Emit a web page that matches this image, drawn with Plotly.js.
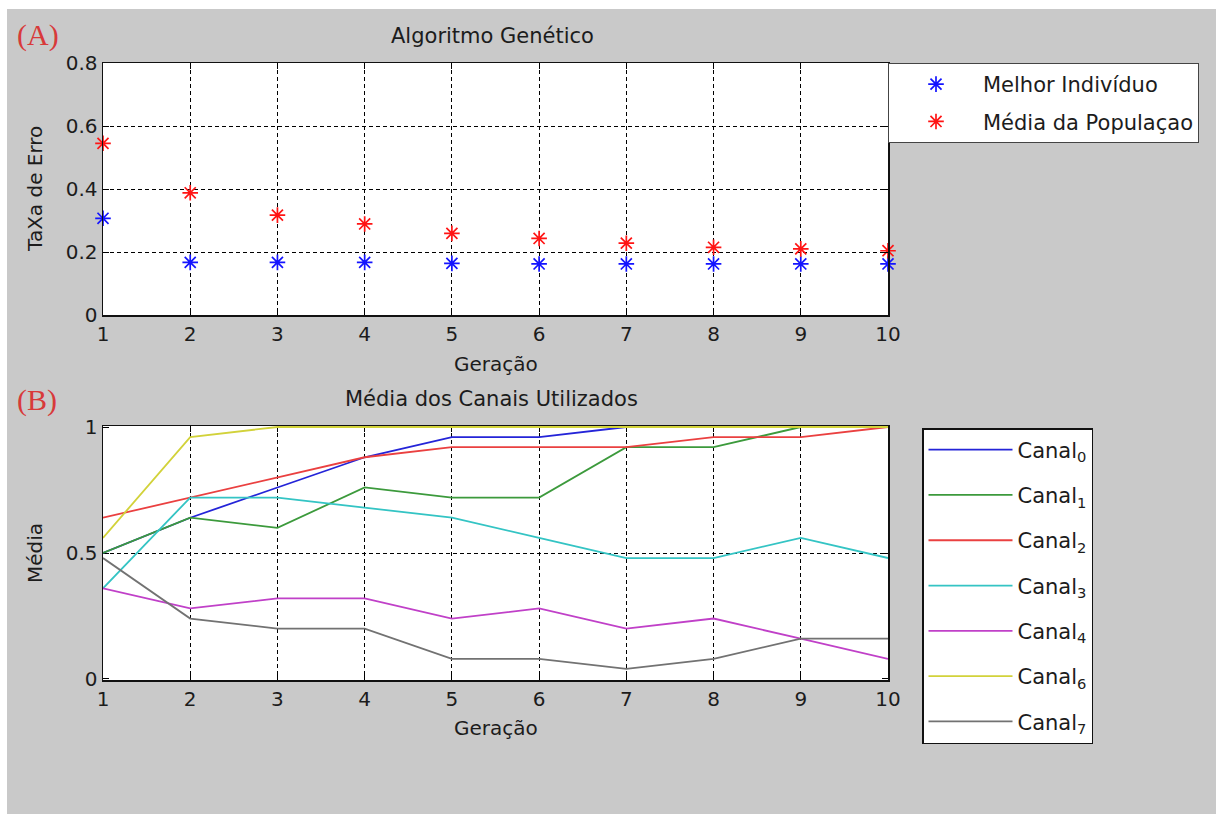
<!DOCTYPE html>
<html>
<head>
<meta charset="utf-8">
<script src="https://cdn.plot.ly/plotly-3.0.1.min.js"></script>
<style>
  html, body { margin: 0; padding: 0; background: #ffffff; }
  #chart { width: 1216px; height: 814px; }
</style>
</head>
<body>
<div id="chart"></div>
<script>
// Generations (x axis of both panels)
const geracao = [1, 2, 3, 4, 5, 6, 7, 8, 9, 10];

// Panel A: error rate per generation
const melhorIndividuo = [0.307, 0.167, 0.167, 0.167, 0.164, 0.162, 0.162, 0.162, 0.162, 0.162];
const mediaPopulacao  = [0.545, 0.388, 0.317, 0.289, 0.259, 0.243, 0.228, 0.215, 0.210, 0.204];

// Panel B: mean usage of each channel per generation
const canalNomes = ['Canal<sub>0</sub>', 'Canal<sub>1</sub>', 'Canal<sub>2</sub>', 'Canal<sub>3</sub>',
                    'Canal<sub>4</sub>', 'Canal<sub>6</sub>', 'Canal<sub>7</sub>'];
const canal0 = [0.50, 0.64, 0.76, 0.88, 0.96, 0.96, 1.00, 1.00, 1.00, 1.00];
const canal1 = [0.50, 0.64, 0.60, 0.76, 0.72, 0.72, 0.92, 0.92, 1.00, 1.00];
const canal2 = [0.64, 0.72, 0.80, 0.88, 0.92, 0.92, 0.92, 0.96, 0.96, 1.00];
const canal3 = [0.36, 0.72, 0.72, 0.68, 0.64, 0.56, 0.48, 0.48, 0.56, 0.48];
const canal4 = [0.36, 0.28, 0.32, 0.32, 0.24, 0.28, 0.20, 0.24, 0.16, 0.08];
const canal6 = [0.56, 0.96, 1.00, 1.00, 1.00, 1.00, 1.00, 1.00, 1.00, 1.00];
const canal7 = [0.48, 0.24, 0.20, 0.20, 0.08, 0.08, 0.04, 0.08, 0.16, 0.16];
const canalValores = [canal0, canal1, canal2, canal3, canal4, canal6, canal7];
const canalCores = ['#2424d8', '#3c9a3c', '#ea4040', '#34c4c4', '#c040c8', '#d2d23a', '#727272'];

// Tick values of the two panels
const ticksErro = [0, 0.2, 0.4, 0.6, 0.8];
const ticksMedia = [0, 0.5, 1];

// Figure geometry in pixels, converted to paper fractions below
const W = 1216, H = 814;
const px = v => v / W;
const py = v => 1 - v / H;

const FONT = 'DejaVu Sans, Verdana, sans-serif';
const SERIF = 'Liberation Serif, Times New Roman, serif';
const TXT = '#1c1c1c';
const GRID = { color: '#000', width: 1, dash: '4px,3px' };

const traces = [
  {
    x: geracao, y: melhorIndividuo, name: 'Melhor Indivíduo',
    type: 'scatter', mode: 'markers', xaxis: 'x', yaxis: 'y',
    legend: 'legend', legendgroup: 'a0', cliponaxis: false,
    marker: { symbol: 'asterisk-open', size: 13, color: '#1414ff', line: { width: 1.7, color: '#1414ff' } }
  },
  {
    x: geracao, y: mediaPopulacao, name: 'Média da Populaçao',
    type: 'scatter', mode: 'markers', xaxis: 'x', yaxis: 'y',
    legend: 'legend', legendgroup: 'a1', cliponaxis: false,
    marker: { symbol: 'asterisk-open', size: 13, color: '#ff1414', line: { width: 1.7, color: '#ff1414' } }
  }
];

canalValores.forEach((vals, i) => {
  traces.push({
    x: geracao, y: vals, name: canalNomes[i],
    type: 'scatter', mode: 'lines', xaxis: 'x2', yaxis: 'y2', legend: 'legend2',
    legendgroup: 'c' + i, cliponaxis: false,
    line: { color: canalCores[i], width: 1.8 }
  });
});

const commonX = {
  range: [1, 10], tickvals: geracao, ticks: 'inside', ticklen: 6, tickwidth: 1, tickcolor: '#000',
  showline: true, linecolor: '#111', linewidth: 1.5, mirror: 'ticks',
  showgrid: true, gridcolor: GRID.color, gridwidth: GRID.width, griddash: GRID.dash,
  zeroline: false, fixedrange: true,
  tickfont: { family: FONT, size: 20, color: TXT },
  domain: [px(103), px(888)]
};
const commonY = {
  ticks: 'inside', ticklen: 6, tickwidth: 1, tickcolor: '#000',
  showline: true, linecolor: '#111', linewidth: 1.5, mirror: 'ticks',
  zeroline: false, fixedrange: true,
  tickfont: { family: FONT, size: 20, color: TXT }
};

const titleFont = { family: FONT, size: 21, color: TXT };
const labelFont = { family: FONT, size: 20, color: TXT };

const layout = {
  width: W, height: H,
  margin: { l: 0, r: 0, t: 0, b: 0 },
  paper_bgcolor: '#c9c9c9', plot_bgcolor: '#ffffff',
  showlegend: true,
  xaxis: Object.assign({}, commonX, { anchor: 'y' }),
  yaxis: Object.assign({}, commonY, {
    anchor: 'x', range: [0, 0.8], tickvals: ticksErro,
    ticktext: ticksErro.map(String),
    showgrid: true, gridcolor: GRID.color, gridwidth: GRID.width, griddash: GRID.dash,
    domain: [py(315), py(63)]
  }),
  xaxis2: Object.assign({}, commonX, { anchor: 'y2', layer: 'below traces' }),
  // a hair of padding keeps the lines that sit at 1.0 visible on the frame;
  // only the middle value gets a grid line
  yaxis2: Object.assign({}, commonY, {
    anchor: 'x2', layer: 'below traces', range: [-0.004, 1.004], tickvals: ticksMedia,
    ticktext: ticksMedia.map(String),
    showgrid: false,
    minor: { tickmode: 'array', tickvals: [ticksMedia[1]], ticks: '', showgrid: true,
             gridcolor: GRID.color, gridwidth: GRID.width, griddash: GRID.dash },
    domain: [py(680), py(426)]
  }),
  legend: {
    x: px(888), y: py(63), xanchor: 'left', yanchor: 'top',
    bgcolor: '#ffffff', bordercolor: '#444', borderwidth: 1,
    font: { family: FONT, size: 21, color: TXT },
    itemwidth: 84, traceorder: 'grouped', tracegroupgap: 7
  },
  legend2: {
    x: px(922), y: py(428), xanchor: 'left', yanchor: 'top',
    bgcolor: '#ffffff', bordercolor: '#111', borderwidth: 1.5,
    font: { family: FONT, size: 21, color: TXT },
    itemwidth: 84, traceorder: 'grouped', tracegroupgap: 15
  },
  shapes: [
    // thin white frame along the top and left edges of the figure
    { type: 'rect', xref: 'paper', yref: 'paper', x0: 0, x1: 1, y0: py(9), y1: 1,
      fillcolor: '#ffffff', line: { width: 0 }, layer: 'below' },
    { type: 'rect', xref: 'paper', yref: 'paper', x0: 0, x1: px(7), y0: 0, y1: 1,
      fillcolor: '#ffffff', line: { width: 0 }, layer: 'below' }
  ],
  annotations: [
    { text: 'Algoritmo Genético', xref: 'paper', yref: 'paper', x: px(492), y: py(36),
      xanchor: 'center', yanchor: 'middle', showarrow: false, font: titleFont },
    { text: 'Média dos Canais Utilizados', xref: 'paper', yref: 'paper', x: px(491), y: py(399),
      xanchor: 'center', yanchor: 'middle', showarrow: false, font: titleFont },
    // axis titles
    { text: 'Geração', xref: 'paper', yref: 'paper', x: px(495.5), y: py(364),
      xanchor: 'center', yanchor: 'middle', showarrow: false, font: labelFont },
    { text: 'Geração', xref: 'paper', yref: 'paper', x: px(495.5), y: py(728),
      xanchor: 'center', yanchor: 'middle', showarrow: false, font: labelFont },
    { text: 'TaXa de Erro', xref: 'paper', yref: 'paper', x: px(35), y: py(189),
      xanchor: 'center', yanchor: 'middle', textangle: -90, showarrow: false, font: labelFont },
    { text: 'Média', xref: 'paper', yref: 'paper', x: px(35), y: py(553),
      xanchor: 'center', yanchor: 'middle', textangle: -90, showarrow: false, font: labelFont },
    // panel tags
    { text: '(A)', xref: 'paper', yref: 'paper', x: px(15), y: py(35),
      xanchor: 'left', yanchor: 'middle', showarrow: false,
      font: { family: SERIF, size: 30, color: '#d83a3a' } },
    { text: '(B)', xref: 'paper', yref: 'paper', x: px(15), y: py(400),
      xanchor: 'left', yanchor: 'middle', showarrow: false,
      font: { family: SERIF, size: 30, color: '#d83a3a' } }
  ]
};

Plotly.newPlot('chart', traces, layout, { displayModeBar: false, staticPlot: true });
</script>
</body>
</html>
